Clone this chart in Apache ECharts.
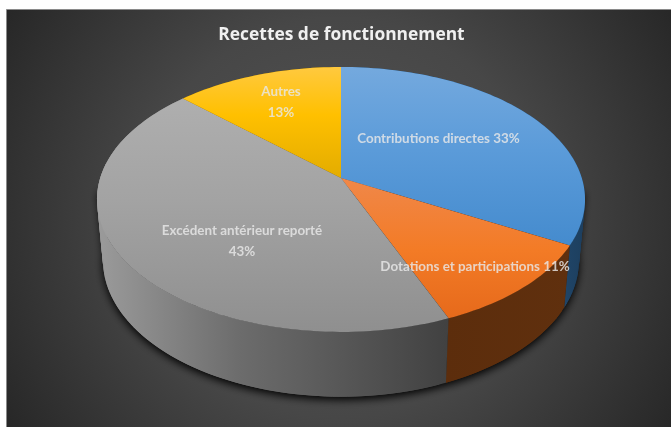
<!DOCTYPE html>
<html>
<head>
<meta charset="utf-8">
<style>html,body{margin:0;padding:0;background:#fff}#c{width:671px;height:427px}</style>
<script src="https://cdn.jsdelivr.net/npm/echarts@6/dist/echarts.min.js"></script>
</head>
<body>
<div id="c"></div>
<script>
const chartTitle = 'Recettes de fonctionnement';
const categories = ['Contributions directes', 'Dotations et participations', 'Excédent antérieur reporté', 'Autres'];
const values = [33.0, 10.8, 43.2, 13.0];

// styling and layout, separate from the data
const topStops = [
  [[67, '#74a9de'], [150, '#5b9bd9'], [270, '#3f87cb']],
  [[180, '#f08748'], [250, '#f37b26'], [325, '#e5681a']],
  [[95, '#afafaf'], [200, '#a3a3a3'], [332, '#8f8f8f']],
  [[67, '#ffc93f'], [115, '#ffc000'], [178, '#e3ac00']]
];
const wallStops = [
  [[540, '#234c72'], [590, '#1c3d5c']],
  [[445, '#5c2d0c'], [575, '#60300e']],
  [[100, '#9a9a9a'], [240, '#6c6c6c'], [449, '#414141']],
  [[180, '#806000'], [340, '#806000']]
];
const labelCenters = [[438.5, 139], [475, 267], [242, 241], [281, 102]];
const labelBreaks = [false, false, true, true];
const topPlane = {cx: 341, y0: 178, a: 240.8, b: 129};
const basePlane = {cx: 341, y0: 238, a: 234.9, b: 133};
const persp = 0.162;

const total = values.reduce((s, v) => s + v, 0);
const startAngles = [];
values.reduce((acc, v, i) => { startAngles[i] = acc; return acc + v / total * 2 * Math.PI; }, 0);

function project(theta, plane) {
  const X = Math.sin(theta), Y = -Math.cos(theta), w = 1 - persp * Y;
  return [plane.cx + plane.a * X / w, plane.y0 + plane.b * Y / w];
}
function vGrad(stops) {
  const y0 = stops[0][0], y1 = stops[stops.length - 1][0];
  return {type: 'linear', x: 0, y: y0, x2: 0, y2: y1, global: true,
    colorStops: stops.map(s => ({offset: (s[0] - y0) / (y1 - y0), color: s[1]}))};
}
function hGrad(stops) {
  const x0 = stops[0][0], x1 = stops[stops.length - 1][0];
  return {type: 'linear', x: x0, y: 0, x2: x1, y2: 0, global: true,
    colorStops: stops.map(s => ({offset: (s[0] - x0) / (x1 - x0), color: s[1]}))};
}
function sliceRange(i) {
  const a0 = startAngles[i];
  return [a0, a0 + values[i] / total * 2 * Math.PI];
}
const STEP = Math.PI / 120;

function renderWalls(params) {
  const i = params.dataIndex, r = sliceRange(i), children = [];
  if (i === 0) {
    const pts = [];
    const start = 95 * Math.PI / 180, end = 265 * Math.PI / 180;
    pts.push(project(start, topPlane));
    for (let t = start; t <= end; t += STEP) pts.push(project(t, basePlane));
    pts.push(project(end, topPlane));
    children.push({type: 'polygon', silent: true, shape: {points: pts},
      style: {fill: '#111', shadowColor: '#000', shadowBlur: 8, shadowOffsetY: 3}});
  }
  const fill = hGrad(wallStops[i]);
  for (let t = r[0]; t < r[1]; t += STEP) {
    const t3 = Math.min(t + 2 * STEP, r[1]);
    children.push({type: 'polygon', silent: true, shape: {points: [
      project(t, topPlane), project(t3, topPlane), project(t3, basePlane), project(t, basePlane)
    ]}, style: {fill: fill}});
  }
  return {type: 'group', children: children};
}
function renderTops(params) {
  const i = params.dataIndex, r = sliceRange(i);
  const pts = [[topPlane.cx, topPlane.y0]];
  for (let t = r[0]; t < r[1]; t += STEP) pts.push(project(t, topPlane));
  pts.push(project(r[1], topPlane));
  return {type: 'polygon', silent: true, shape: {points: pts},
    style: {fill: vGrad(topStops[i])}};
}
function renderLabels(params) {
  const i = params.dataIndex, c = labelCenters[i];
  const sep = labelBreaks[i] ? '\n' : ' ';
  return {type: 'text', silent: true, x: c[0], y: c[1], style: {
    text: categories[i] + sep + Math.round(values[i]) + '%',
    fill: 'rgba(232,232,232,0.82)', font: 'bold 13.4px Lato', align: 'center',
    verticalAlign: 'middle', lineHeight: 21
  }};
}
const sliceData = categories.map((c, i) => ({name: c, value: values[i]}));
const chart = echarts.init(document.getElementById('c'), null, {renderer: 'canvas'});
chart.setOption({
  animation: false,
  backgroundColor: '#ffffff',
  title: {
    text: chartTitle, left: 336.5, top: 22, textAlign: 'center',
    textStyle: {color: '#f0f0f0', fontFamily: 'Open Sans', fontWeight: 'bold', fontSize: 17.4}
  },
  graphic: [{
    type: 'rect', z: -10, silent: true,
    shape: {x: 6.5, y: 9.5, width: 670, height: 425},
    style: {
      stroke: '#8a8a8a', lineWidth: 1,
      fill: {type: 'radial', x: 340, y: 218, r: 400, global: true,
        colorStops: [{offset: 0, color: '#555555'}, {offset: 0.5, color: '#474747'}, {offset: 1, color: '#262626'}]}
    }
  }],
  series: [
    {type: 'custom', coordinateSystem: 'none', silent: true, renderItem: renderWalls, data: sliceData, z: 2},
    {type: 'custom', coordinateSystem: 'none', silent: true, renderItem: renderTops, data: sliceData, z: 3},
    {type: 'custom', coordinateSystem: 'none', silent: true, renderItem: renderLabels, data: sliceData, z: 4}
  ]
});
</script>
</body>
</html>
